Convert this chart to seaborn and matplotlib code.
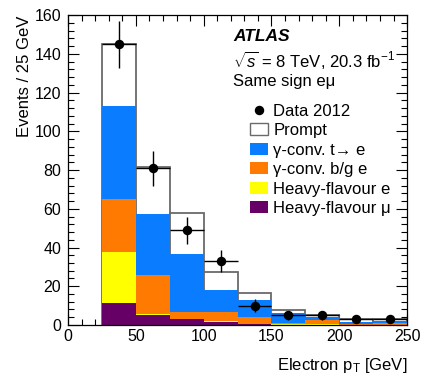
"""Same-sign e-mu electron pT distribution, stacked backgrounds vs data."""
import numpy as np
import pandas as pd
import matplotlib
matplotlib.use("Agg")
import matplotlib.pyplot as plt
from matplotlib.lines import Line2D
from matplotlib.patches import Patch
from matplotlib.ticker import MultipleLocator
import seaborn as sns

# bin edges in GeV, 25 GeV bins
bin_edges = [25, 50, 75, 100, 125, 150, 175, 200, 225, 250]
bin_centers = [37.5, 62.5, 87.5, 112.5, 137.5, 162.5, 187.5, 212.5, 237.5]

# stack components (events per bin), bottom to top
heavy_mu = [11.4, 5.3, 3.0, 1.7, 0.5, 0.2, 0.2, 0.1, 0.1]
heavy_e = [26.3, 0.2, 0.1, 0.1, 0.1, 0.1, 0.1, 0.1, 0.1]
conv_bg = [27.3, 20.1, 3.8, 4.7, 3.7, 0.5, 2.4, 0.2, 0.6]
conv_t = [48.2, 31.8, 29.7, 11.7, 8.7, 5.4, 1.6, 1.1, 1.1]
prompt = [32.0, 24.3, 21.0, 9.0, 3.5, 1.5, 1.0, 1.6, 1.4]

data_counts = [145, 81, 49, 33, 10, 5, 5, 3, 3]
data_err = [12.0, 9.0, 7.0, 5.7, 3.2, 2.2, 2.2, 1.7, 1.7]

labels = ["Prompt", "\u03b3-conv. t\u2192 e", "\u03b3-conv. b/g e",
          "Heavy-flavour e", "Heavy-flavour \u03bc"]
colors = ["white", "#0a7cff", "#ff7a00", "#ffff00", "#660066"]
edge = "#6a6a6a"

sns.set_style("ticks")
plt.rcParams["font.family"] = ["Liberation Sans", "DejaVu Sans"]
plt.rcParams["mathtext.fontset"] = "custom"
plt.rcParams["mathtext.rm"] = "Liberation Sans"
plt.rcParams["mathtext.it"] = "Liberation Sans:italic"
for k in ["text.color", "axes.labelcolor", "xtick.color", "ytick.color", "axes.edgecolor"]:
    plt.rcParams[k] = "black"

comps = pd.DataFrame({"mu": heavy_mu, "e": heavy_e, "bg": conv_bg,
                      "t": conv_t, "prompt": prompt})
cum = comps.cumsum(axis=1)

fig = plt.figure(figsize=(4.25, 3.91), dpi=100)
ax = fig.add_axes([0.16, 0.169, 0.798, 0.792])

# draw from the top of the stack down so lower layers overlay
layers = ["prompt", "t", "bg", "e", "mu"]
for key, col in zip(layers, colors):
    kw = dict(edgecolor=edge, linewidth=1.3) if key == "prompt" else dict(edgecolor="none", linewidth=0)
    sns.histplot(x=bin_centers, weights=cum[key], bins=bin_edges, element="bars",
                 fill=True, color=col, alpha=1, ax=ax, **kw)

ax.errorbar(bin_centers, data_counts, yerr=data_err, xerr=12.5, fmt="o",
            color="black", markersize=5.8, elinewidth=1, capsize=0, zorder=5)

ax.set_xlim(0, 250)
ax.set_ylim(0, 160)
ax.xaxis.set_major_locator(MultipleLocator(50))
ax.xaxis.set_minor_locator(MultipleLocator(10))
ax.yaxis.set_major_locator(MultipleLocator(20))
ax.yaxis.set_minor_locator(MultipleLocator(4))
ax.tick_params(which="both", direction="in", top=True, right=True, labelsize=11.5)
ax.tick_params(which="major", length=8, width=0.8)
ax.tick_params(which="minor", length=4, width=0.8)
ax.tick_params(axis="y", pad=5)
ax.tick_params(axis="x", pad=3)
for s in ax.spines.values():
    s.set_linewidth(0.9)

ax.set_xlabel("Electron p$_{\\mathrm{T}}$ [GeV]", fontsize=12, ha="right")
ax.set_ylabel("Events / 25 GeV", fontsize=12, ha="right")
ax.xaxis.set_label_coords(1.0, -0.1)
ax.yaxis.set_label_coords(-0.105, 1.0)

ax.text(0.487, 0.93, "ATLAS", transform=ax.transAxes, fontsize=12.5,
        fontweight="bold", fontstyle="italic", va="center")
ax.text(0.487, 0.857, "$\\sqrt{s}$ = 8 TeV, 20.3 fb$^{-1}$", transform=ax.transAxes,
        fontsize=12, va="center")
ax.text(0.487, 0.787, "Same sign e\u03bc", transform=ax.transAxes, fontsize=12, va="center")

handles = [Line2D([], [], marker="o", color="black", ls="none", markersize=5.8)]
handles += [Patch(facecolor=c, edgecolor=edge if c == "white" else "none") for c in colors]
ax.legend(handles, ["Data 2012"] + labels, loc="upper left",
          bbox_to_anchor=(0.537, 0.715), frameon=False, fontsize=12,
          handlelength=1.08, handleheight=0.7, handletextpad=0.32,
          labelspacing=0.27, borderpad=0, borderaxespad=0)

fig.savefig("out.png", dpi=100)
